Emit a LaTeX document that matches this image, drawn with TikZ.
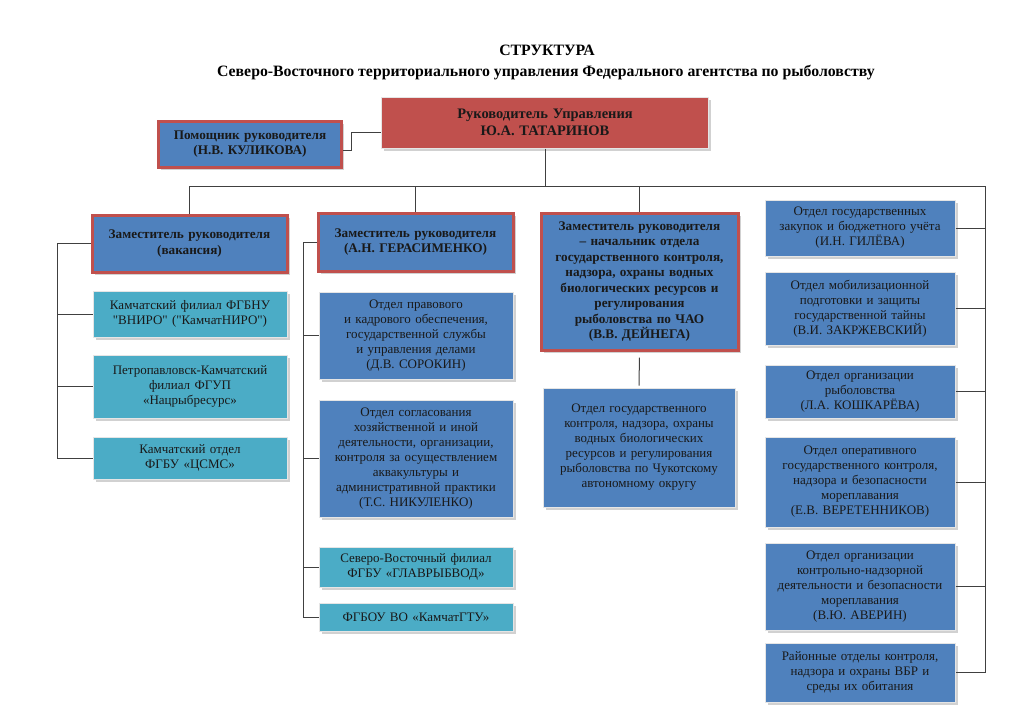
\documentclass[tikz,border=0pt]{standalone}
\usepackage{fontspec}
\setmainfont{Liberation Serif}
\newfontfamily\qfont{Liberation Serif}
\newcommand\sq{{\qfont"}}
\usetikzlibrary{shadows}
\definecolor{boxblue}{HTML}{4F81BD}
\definecolor{boxcyan}{HTML}{4BACC6}
\definecolor{boxred}{HTML}{C0504D}
\definecolor{linegray}{HTML}{404040}
\tikzset{
  base/.style={inner sep=0pt, align=center, text=black!90,
    font=\fontsize{13}{15}\selectfont,
    drop shadow={shadow xshift=2.5pt, shadow yshift=-2.5pt, fill=black!30, opacity=0.6}},
  bluebox/.style={base, fill=boxblue, draw=white!80!gray, line width=1pt},
  cyanbox/.style={base, fill=boxcyan, draw=white!80!gray, line width=1pt},
  chiefbox/.style={base, fill=boxblue, draw=boxred, line width=3pt,
    font=\bfseries\fontsize{13.2}{15.5}\selectfont},
  headbox/.style={base, fill=boxred, draw=white!80!gray, line width=1pt,
    font=\bfseries\fontsize{14.5}{17}\selectfont},
  conn/.style={draw=linegray, line width=1pt},
  titletext/.style={font=\bfseries\fontsize{15.8}{18}\selectfont},
}
\begin{document}
\begin{tikzpicture}[x=1pt,y=-1pt]
\useasboundingbox (0,0) rectangle (1024,724);
% titles
\node[titletext] (t1) at (547,50) {СТРУКТУРА};
\node[titletext] (t2) at (546,73) {Северо-Восточного территориального управления Федерального агентства по рыболовству};
% top
\node[headbox, minimum width=327pt, minimum height=51pt, text width=320pt] (head) at (545,122.5) {Руководитель Управления\\Ю.А. ТАТАРИНОВ};
\node[chiefbox, minimum width=183pt, minimum height=46pt, text width=178pt] (asst) at (250,144) {Помощник руководителя\\(Н.В. КУЛИКОВА)};
% column 1
\node[chiefbox, minimum width=195pt, minimum height=57pt, text width=188pt] (d1) at (189.5,243.5) {Заместитель руководителя\\(вакансия)};
\node[cyanbox, minimum width=194pt, minimum height=46pt, text width=186pt] (k1) at (190,314) {Камчатский филиал ФГБНУ\\\sq ВНИРО\sq{} (\sq КамчатНИРО\sq)};
\node[cyanbox, minimum width=194pt, minimum height=63pt, text width=186pt] (k2) at (190,386.5) {Петропавловск-Камчатский\\филиал ФГУП\\«Нацрыбресурс»};
\node[cyanbox, minimum width=194pt, minimum height=42pt, text width=186pt] (k3) at (190,458) {Камчатский отдел\\ФГБУ «ЦСМС»};
% column 2
\node[chiefbox, minimum width=195pt, minimum height=58pt, text width=188pt] (d2) at (415.5,242) {Заместитель руководителя\\(А.Н. ГЕРАСИМЕНКО)};
\node[bluebox, minimum width=194pt, minimum height=87pt, text width=186pt] (p1) at (416,335.5) {Отдел правового\\и кадрового обеспечения,\\государственной службы\\и управления делами\\(Д.В. СОРОКИН)};
\node[bluebox, minimum width=194pt, minimum height=117pt, text width=190pt] (p2) at (416,458.5) {Отдел согласования\\хозяйственной и иной\\деятельности, организации,\\контроля за осуществлением\\аквакультуры и\\административной практики\\(Т.С. НИКУЛЕНКО)};
\node[cyanbox, minimum width=194pt, minimum height=40pt, text width=186pt] (p3) at (416,567) {Северо-Восточный филиал\\ФГБУ «ГЛАВРЫБВОД»};
\node[cyanbox, minimum width=194pt, minimum height=28pt, text width=186pt] (p4) at (416,617) {ФГБОУ ВО «КамчатГТУ»};
% column 3
\node[chiefbox, minimum width=197pt, minimum height=137pt, text width=192pt] (d3) at (639.5,281.5) {Заместитель руководителя\\– начальник отдела\\государственного контроля,\\надзора, охраны водных\\биологических ресурсов и\\регулирования\\рыболовства по ЧАО\\(В.В. ДЕЙНЕГА)};
\node[bluebox, minimum width=192pt, minimum height=119pt, text width=186pt] (o3) at (639,447.5) {Отдел государственного\\контроля, надзора, охраны\\водных биологических\\ресурсов и регулирования\\рыболовства по Чукотскому\\автономному округу};
% column 4
\node[bluebox, minimum width=190pt, minimum height=56pt, text width=186pt] (r1) at (860,228) {Отдел государственных\\закупок и бюджетного учёта\\(И.Н. ГИЛЁВА)};
\node[bluebox, minimum width=190pt, minimum height=73pt, text width=186pt] (r2) at (860,308.5) {Отдел мобилизационной\\подготовки и защиты\\государственной тайны\\(В.И. ЗАКРЖЕВСКИЙ)};
\node[bluebox, minimum width=190pt, minimum height=53pt, text width=186pt] (r3) at (860,391.5) {Отдел организации\\рыболовства\\(Л.А. КОШКАРЁВА)};
\node[bluebox, minimum width=190pt, minimum height=90pt, text width=186pt] (r4) at (860,482) {Отдел оперативного\\государственного контроля,\\надзора и безопасности\\мореплавания\\(Е.В. ВЕРЕТЕННИКОВ)};
\node[bluebox, minimum width=190pt, minimum height=87pt, text width=186pt] (r5) at (860,586.5) {Отдел организации\\контрольно-надзорной\\деятельности и безопасности\\мореплавания\\(В.Ю. АВЕРИН)};
\node[bluebox, minimum width=190pt, minimum height=59pt, text width=186pt] (r6) at (860,672.5) {Районные отделы контроля,\\надзора и охраны ВБР и\\среды их обитания};
% connectors
\coordinate (busL) at (189.5,186);
\coordinate (busR) at (985,186);
\coordinate (c1) at (57,186);
\coordinate (c2) at (303,186);
\draw[conn] (busL) -- (busR);
\draw[conn] (head.south) -- (head.south |- busL);
\draw[conn] (busL) -- (d1.north);
\draw[conn] (d2.north |- busL) -- (d2.north);
\draw[conn] (d3.north |- busL) -- (d3.north);
\draw[conn] ([yshift=-6pt]asst.east) -- ++(8,0) |- ([yshift=-10pt]head.west);
% column 1 bus
\draw[conn] (d1.west) -| (c1 |- k3.west) -- (k3.west);
\draw[conn] (k1.west) -- (k1.west -| c1);
\draw[conn] (k2.west) -- (k2.west -| c1);
% column 2 bus
\draw[conn] (d2.west) -| (c2 |- p4.west) -- (p4.west);
\draw[conn] (p1.west) -- (p1.west -| c2);
\draw[conn] (p2.west) -- (p2.west -| c2);
\draw[conn] (p3.west) -- (p3.west -| c2);
% column 3
\draw[conn, shorten <=6pt, shorten >=2pt] (d3.south) -- (o3.north);
% column 4 bus
\draw[conn] (busR) |- (r6.east);
\foreach \r in {r1,r2,r3,r4,r5} {\draw[conn] (\r.east) -- (\r.east -| busR);}
\end{tikzpicture}
\end{document}
